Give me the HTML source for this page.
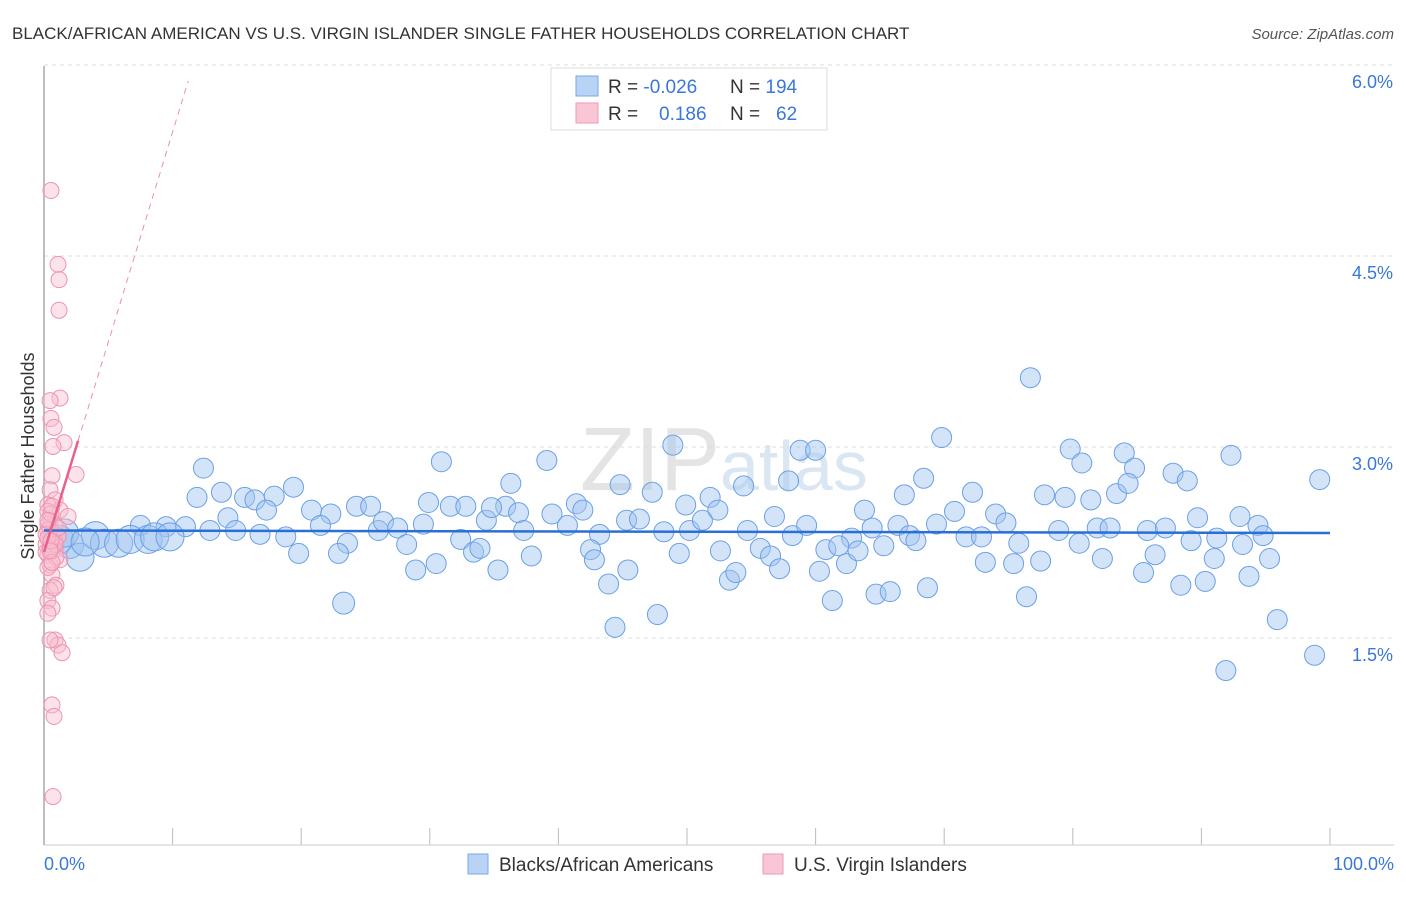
<!DOCTYPE html>
<html><head><meta charset="utf-8"><style>
body{margin:0;background:#fff;font-family:"Liberation Sans",sans-serif}
svg text{font-family:"Liberation Sans",sans-serif}
</style></head><body>
<svg id="c" width="1406" height="892" viewBox="0 0 1406 892" xmlns="http://www.w3.org/2000/svg">
<text x="12" y="39" font-size="17" fill="#333">BLACK/AFRICAN AMERICAN VS U.S. VIRGIN ISLANDER SINGLE FATHER HOUSEHOLDS CORRELATION CHART</text>
<text x="1394" y="39" font-size="15" fill="#555" font-style="italic" text-anchor="end">Source: ZipAtlas.com</text>
<text x="720" y="490" font-size="90" fill="#e4e4e4" text-anchor="end" font-family="Liberation Serif">ZIP</text>
<text x="720" y="490" font-size="70" fill="#dbe6f3">atlas</text>
<g id="grid"></g>
<line x1="44" y1="66" x2="44" y2="845" stroke="#aaa" stroke-width="1.5"/>
<line x1="44" y1="845" x2="1394" y2="845" stroke="#ccc"/>
<text transform="translate(34,456) rotate(-90)" font-size="18" fill="#333" text-anchor="middle">Single Father Households</text>
<g id="pts"></g>
<g id="lines"></g>
<g>
<rect x="551" y="68" width="276" height="62" fill="#fff" stroke="#ddd"/>
<rect x="576" y="76" width="22" height="20" fill="#b9d3f5" stroke="#7aa7e6"/>
<rect x="576" y="103" width="22" height="20" fill="#f9c6d6" stroke="#ee9ab5"/>
<text x="608" y="93" font-size="19" fill="#333">R = <tspan fill="#3a78d8">-0.026</tspan></text>
<text x="730" y="93" font-size="19" fill="#333">N = <tspan fill="#3a78d8">194</tspan></text>
<text x="608" y="120" font-size="19" fill="#333">R = <tspan fill="#3a78d8" x="659">0.186</tspan></text>
<text x="730" y="120" font-size="19" fill="#333">N = <tspan fill="#3a78d8" x="776">62</tspan></text>
</g>
<g>
<rect x="468" y="854" width="20" height="20" fill="#b9d3f5" stroke="#7aa7e6"/>
<text x="499" y="871" font-size="19" fill="#333">Blacks/African Americans</text>
<rect x="763" y="854" width="20" height="20" fill="#f9c6d6" stroke="#ee9ab5"/>
<text x="794" y="871" font-size="19" fill="#333">U.S. Virgin Islanders</text>
</g>
<text x="44" y="870" font-size="18" fill="#3a78d8">0.0%</text>
<text x="1394" y="870" font-size="18" fill="#3a78d8" text-anchor="end">100.0%</text>
</svg>
<script>
const yTicks=[1.5,3.0,4.5,6.0];
const xTickVals=[10,20,30,40,50,60,70,80,90,100];
const blueX=[76.7,30.9,39.1,48.9,58.8,60.0,69.8,79.8,80.7,84.0,84.8,87.8,88.9,92.3,99.2,12.4,13.8,11.9,15.6,16.4,17.9,19.4,17.3,14.3,20.8,22.3,24.3,25.4,29.9,31.6,32.8,35.9,36.3,41.4,41.9,44.8,47.3,49.9,51.8,52.4,54.4,57.9,63.8,66.9,68.4,72.2,74.0,77.8,79.4,81.4,83.4,84.3,89.7,93.0,94.4,
7.5,9.5,11.0,12.9,14.9,16.8,18.8,21.5,23.6,26.0,26.4,27.5,28.2,29.5,32.4,34.4,34.8,36.9,37.3,39.5,40.7,43.2,45.3,46.3,48.2,50.2,51.2,54.7,56.8,58.2,59.3,62.8,64.4,66.4,67.3,69.4,70.8,71.7,72.9,74.8,75.8,78.9,80.5,81.9,82.9,85.8,87.2,89.2,91.2,93.2,94.8,
19.8,22.9,28.9,30.5,33.4,33.9,35.3,37.9,42.5,42.8,43.9,45.4,44.4,47.7,49.4,52.6,53.3,53.8,55.7,56.5,57.2,60.3,60.8,61.3,61.8,62.4,63.3,64.7,65.3,65.8,67.8,68.7,73.2,75.4,76.4,77.5,82.3,85.5,86.4,88.4,90.3,91.0,93.7,95.3,95.9,91.9,98.8,23.3,
1.2,2.0,2.8,4.0,4.7,5.8,6.7,8.1,8.6,9.8,1.6,3.2];
const blueY=[3.67,3.01,3.02,3.14,3.10,3.10,3.20,3.11,3.00,3.08,2.96,2.92,2.86,3.06,2.87,2.96,2.77,2.73,2.73,2.71,2.74,2.81,2.63,2.57,2.63,2.60,2.66,2.66,2.69,2.66,2.66,2.66,2.84,2.68,2.63,2.83,2.77,2.67,2.73,2.63,2.82,2.86,2.63,2.75,2.88,2.77,2.60,2.75,2.73,2.71,2.76,2.84,2.57,2.58,2.51,
2.51,2.50,2.50,2.47,2.47,2.44,2.42,2.51,2.37,2.47,2.54,2.49,2.36,2.52,2.40,2.55,2.65,2.61,2.47,2.60,2.51,2.44,2.55,2.56,2.46,2.47,2.55,2.47,2.58,2.43,2.51,2.41,2.49,2.51,2.43,2.52,2.62,2.42,2.42,2.53,2.37,2.47,2.37,2.49,2.49,2.47,2.49,2.39,2.41,2.36,2.43,
2.29,2.29,2.16,2.21,2.30,2.33,2.16,2.27,2.32,2.24,2.05,2.16,1.71,1.81,2.29,2.31,2.08,2.14,2.33,2.27,2.17,2.15,2.32,1.92,2.35,2.21,2.31,1.97,2.35,1.99,2.39,2.02,2.22,2.21,1.95,2.23,2.25,2.14,2.28,2.04,2.07,2.25,2.11,2.25,1.77,1.37,1.49,1.90,
2.40,2.36,2.26,2.43,2.37,2.37,2.40,2.40,2.42,2.42,2.45,2.38];
const blueSize=[];for(let i=0;i<blueX.length;i++)blueSize.push(i>=blueX.length-12?14:(i==blueX.length-13?11:10));
const pinkX=[0.54,1.09,1.17,1.17,1.24,0.47,0.54,0.78,1.56,0.7,2.49,0.62,0.47,0.86,0.3,1.24,1.87,0.47,0.86,0.3,1.09,0.62,0.16,0.86,0.3,1.24,0.47,0.62,0.93,0.47,0.3,0.62,0.3,0.86,1.09,1.4,0.62,0.78,0.7,0.47,0.3,0.62,0.86,0.16,1.09,0.47,0.3,0.7,0.93,0.3,0.54,0.62,0.16,0.86,0.47,0.3,1.09,0.62,0.78,0.3,0.54,0.47];
const pinkY=[5.14,4.56,4.44,4.20,3.51,3.49,3.35,3.28,3.16,3.13,2.91,2.90,2.79,2.71,2.67,2.63,2.58,2.55,2.51,2.47,2.43,2.40,2.36,2.32,2.28,2.24,2.20,2.12,2.04,2.00,1.92,1.86,1.82,1.61,1.57,1.51,1.10,1.01,0.38,1.61,2.62,2.45,2.38,2.30,2.42,2.48,2.52,2.34,2.26,2.18,2.60,2.66,2.44,2.36,2.33,2.41,2.49,2.22,2.02,2.55,2.39,2.31];
const blueFit=[2.47,2.45];
const pinkFit=[2.30,0.33];
const X=v=>44+v*12.86, Y=v=>845-v*127.33;
const NS='http://www.w3.org/2000/svg';
function mk(t,a,p){const e=document.createElementNS(NS,t);for(const k in a)e.setAttribute(k,a[k]);p.appendChild(e);return e;}
const g=document.getElementById('grid');
yTicks.forEach(v=>{
 const l=mk('line',{x1:44,x2:1394,y1:Y(v)-16,y2:Y(v)-16,stroke:'#ddd','stroke-dasharray':'4,4'},g);
 
 
 const t=mk('text',{x:1393,y:Y(v)+7,'font-size':18,fill:'#3a78d8','text-anchor':'end'},g);
 t.textContent=v.toFixed(1)+'%';
 
 
});
xTickVals.forEach(v=>{
 const l=mk('line',{x1:X(v),x2:X(v),y1:828,y2:845,stroke:'#bbb'},g);
 
 
});
const p=document.getElementById('pts');
blueX.forEach((x,i)=>{
 const c=mk('circle',{cx:X(x),cy:Y(blueY[i]),r:blueSize[i],fill:'rgba(160,196,240,0.45)',stroke:'#6aa0e6','stroke-width':1},p);
 
 
});
pinkX.forEach((x,i)=>{
 const c=mk('circle',{cx:X(x),cy:Y(pinkY[i]),r:8,fill:'rgba(248,190,208,0.45)',stroke:'#ec94b0','stroke-width':1},p);
 
 
});
const L=document.getElementById('lines');
const bl=mk('line',{x1:X(0),y1:Y(blueFit[0]),x2:X(100),y2:Y(blueFit[1]),stroke:'#2a6fd6','stroke-width':2.5},L);


const xe=(6.0-pinkFit[0])/pinkFit[1];
const pd=mk('line',{x1:X(2.65),y1:Y(pinkFit[0]+pinkFit[1]*2.65),x2:X(xe),y2:Y(6.0),stroke:'#ec8fae','stroke-width':1,'stroke-dasharray':'6,5'},L);


const ps=mk('line',{x1:X(0),y1:Y(pinkFit[0]),x2:X(2.65),y2:Y(pinkFit[0]+pinkFit[1]*2.65),stroke:'#e8608c','stroke-width':2.5},L);


</script>
</body></html>
